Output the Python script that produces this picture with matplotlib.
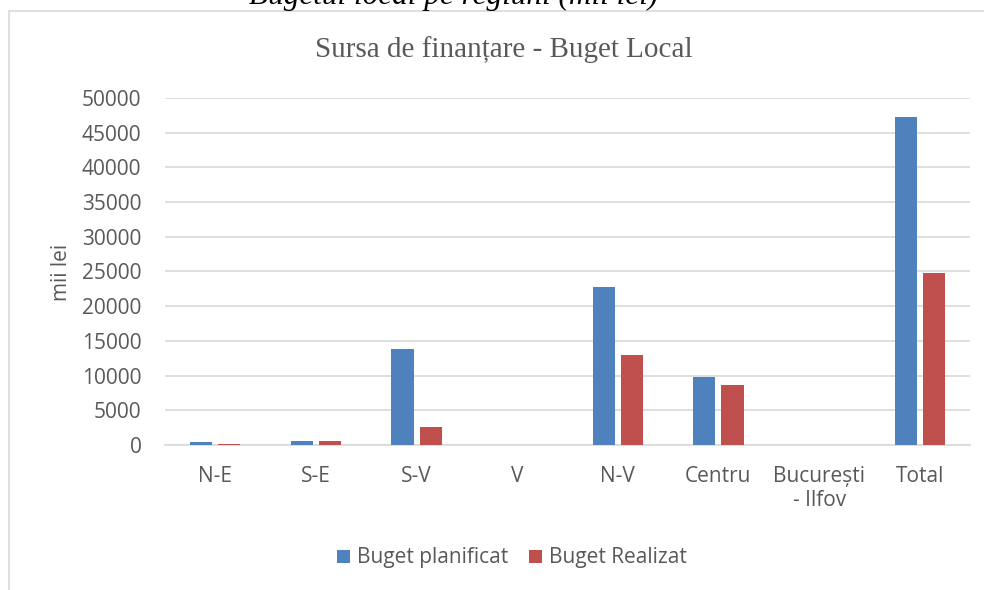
import matplotlib
matplotlib.use("Agg")
import matplotlib.pyplot as plt
import numpy as np
from matplotlib.patches import Rectangle

categories = ["N-E", "S-E", "S-V", "V", "N-V", "Centru", "București\n- Ilfov", "Total"]
planificat = [400, 600, 13800, 0, 22700, 9800, 0, 47300]
realizat = [200, 600, 2600, 0, 12900, 8600, 0, 24800]
yticks = list(range(0, 50001, 5000))

W, H = 984, 590
fig = plt.figure(figsize=(W / 100, H / 100), dpi=100)
fig.patch.set_facecolor("white")

# chart area border (left and top visible)
fig.add_artist(Rectangle((9 / W, -0.1), 1.2, (H - 11) / H + 0.1, transform=fig.transFigure,
                         fill=False, edgecolor="#d9d9d9", linewidth=1.2))

# cut-off document caption above
fig.text(454 / W, 1 - 4 / H, "Bugetul local pe regiuni (mii lei)", ha="center", va="baseline",
         fontsize=22.5, style="italic", family="Liberation Serif", color="black")

ax = fig.add_axes([165 / W, 1 - 445 / H, (970 - 165) / W, (445 - 98) / H])
x = np.arange(len(categories))
bw = 0.22
off = 0.14
ax.bar(x - off, planificat, bw, color="#4f81bd", label="Buget planificat", zorder=3)
ax.bar(x + off, realizat, bw, color="#c0504d", label="Buget Realizat", zorder=3)

ax.set_xlim(-0.5, len(categories) - 0.5)
ax.set_ylim(0, 50000)
ax.set_yticks(yticks)
ax.set_yticklabels([str(v) for v in yticks])
ax.set_xticks(x)
ax.set_xticklabels(categories)
ax.yaxis.grid(True, color="#d9d9d9", linewidth=1.2, zorder=0)
ax.set_axisbelow(True)
for s in ["top", "right", "left"]:
    ax.spines[s].set_visible(False)
ax.spines["bottom"].set_color("#d9d9d9")
ax.spines["bottom"].set_linewidth(1.2)
ax.tick_params(length=0, labelsize=15, colors="#595959")
ax.tick_params(axis="x", pad=15)
ax.tick_params(axis="y", pad=17)
for lbl in ax.get_xticklabels() + ax.get_yticklabels():
    lbl.set_family("Open Sans")
    lbl.set_color("#595959")

fig.text(62 / W, 1 - 272 / H, "mii lei", rotation=90, ha="center", va="center",
         fontsize=15, family="Open Sans", color="#595959")

fig.text(504 / W, 1 - 50 / H, "Sursa de finanțare - Buget Local", ha="center", va="center",
         fontsize=21, family="Liberation Serif", color="#595959")

leg = fig.legend(loc="center", bbox_to_anchor=(512 / W, 1 - 558 / H), ncol=2, frameon=False,
                 prop={"family": "Open Sans", "size": 15}, handlelength=0.6, handleheight=0.6,
                 handletextpad=0.35, columnspacing=1.0)
for t in leg.get_texts():
    t.set_color("#595959")

fig.savefig("out.png", dpi=100)
